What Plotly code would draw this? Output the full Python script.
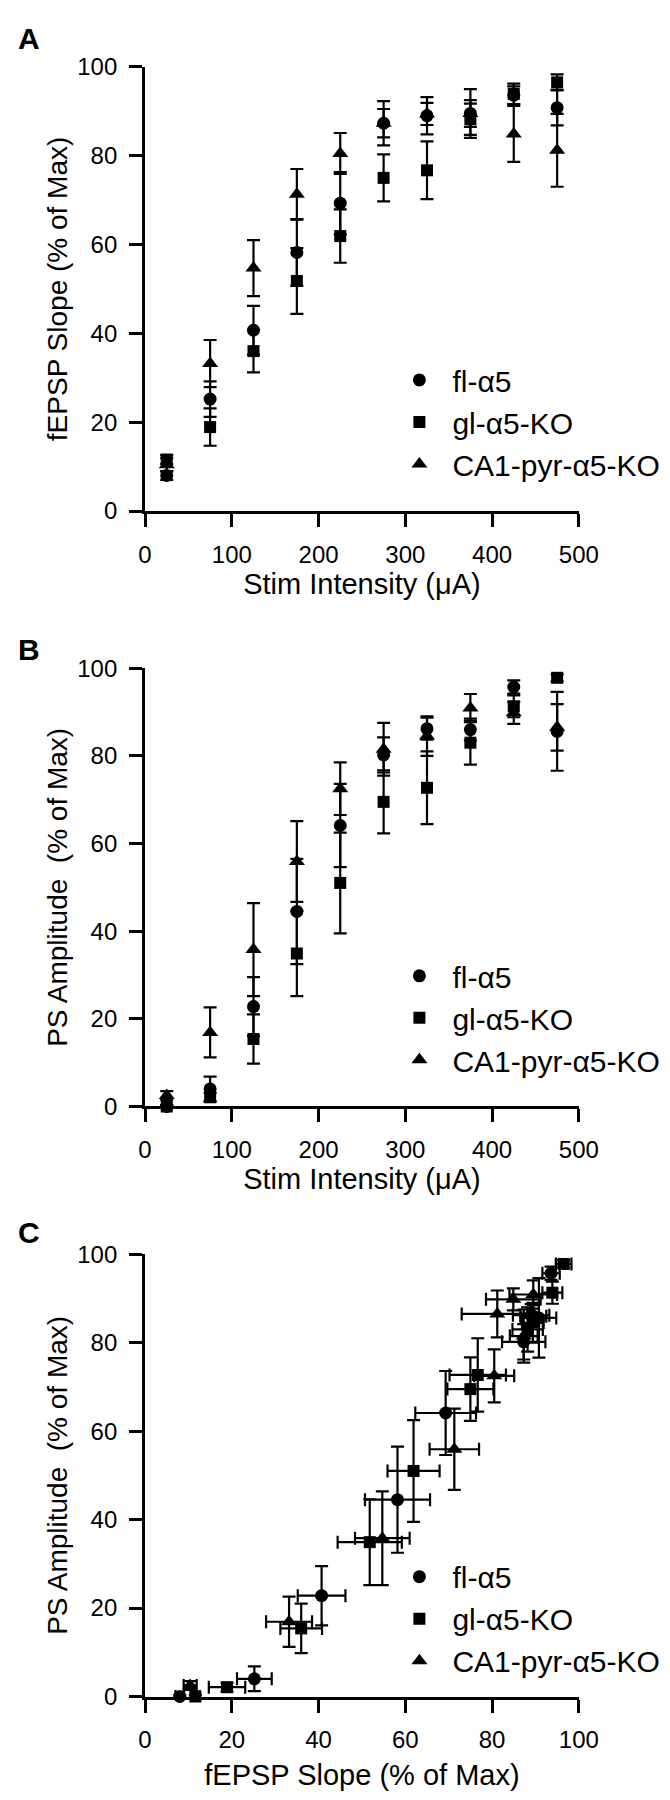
import plotly.graph_objects as go

# ---------------- data ----------------
stim = [25, 75, 125, 175, 225, 275, 325, 375, 425, 475]
groups = ["fl-α5", "gl-α5-KO", "CA1-pyr-α5-KO"]

# fEPSP slope (% of max), mean and SEM
slope_fl = [8.0, 25.2, 40.7, 58.2, 69.3, 87.3, 89.0, 89.5, 93.6, 90.8]
slope_fl_err = [1.0, 4.0, 5.5, 7.5, 7.0, 5.0, 4.2, 3.0, 2.0, 4.0]
slope_gl = [11.6, 18.9, 36.0, 51.8, 61.9, 75.0, 76.7, 88.2, 93.9, 96.5]
slope_gl_err = [1.0, 4.2, 4.8, 7.4, 6.0, 5.3, 6.5, 3.5, 2.3, 1.8]
slope_ca1 = [10.4, 33.2, 54.7, 71.3, 80.5, 87.3, 89.4, 89.5, 84.9, 81.2]
slope_ca1_err = [1.5, 5.3, 6.3, 5.7, 4.6, 3.2, 2.5, 5.5, 6.3, 8.2]

# PS amplitude (% of max), mean and SEM
ps_fl = [0.0, 4.0, 22.8, 44.5, 64.1, 80.2, 86.2, 86.0, 95.7, 85.6]
ps_fl_err = [0.3, 2.8, 6.7, 12.0, 9.5, 4.0, 2.5, 2.5, 1.5, 9.0]
ps_gl = [0.0, 2.1, 15.4, 34.9, 51.0, 69.5, 72.7, 83.0, 91.3, 97.8]
ps_gl_err = [0.3, 1.0, 5.6, 9.7, 11.5, 7.2, 8.3, 5.0, 2.5, 0.8]
ps_ca1 = [2.5, 16.9, 35.8, 55.9, 72.5, 81.5, 84.5, 90.9, 89.8, 86.5]
ps_ca1_err = [1.0, 5.7, 10.6, 9.2, 6.0, 6.0, 4.5, 3.2, 2.5, 5.3]

x_ticks_stim = [0, 100, 200, 300, 400, 500]
y_ticks = [0, 20, 40, 60, 80, 100]

# ---------------- style ----------------
FONT = "Liberation Sans, Arial, Helvetica, sans-serif"
symbols = ["circle", "square", "triangle-up"]
sizes = [13, 12, 14]
slopes = [(slope_fl, slope_fl_err), (slope_gl, slope_gl_err), (slope_ca1, slope_ca1_err)]
pss = [(ps_fl, ps_fl_err), (ps_gl, ps_gl_err), (ps_ca1, ps_ca1_err)]

fig = go.Figure()

def err(arr):
    return dict(type="data", array=arr, color="black", thickness=2.2, width=6.5, visible=True)

for i, name in enumerate(groups):
    s, se = slopes[i]
    p, pe = pss[i]
    mk = dict(symbol=symbols[i], size=sizes[i], color="black", line=dict(width=0))
    fig.add_trace(go.Scatter(x=stim, y=s, error_y=err(se), mode="markers", marker=mk,
                             name=name, xaxis="x", yaxis="y", legend="legend",
                             legendgroup="A%d" % i, cliponaxis=False))
    fig.add_trace(go.Scatter(x=stim, y=p, error_y=err(pe), mode="markers", marker=mk,
                             name=name, xaxis="x2", yaxis="y2", legend="legend2",
                             legendgroup="B%d" % i, cliponaxis=False))
    fig.add_trace(go.Scatter(x=s, y=p, error_x=err(se), error_y=err(pe), mode="markers",
                             marker=mk, name=name, xaxis="x3", yaxis="y3", legend="legend3",
                             legendgroup="C%d" % i, cliponaxis=False))

W, H = 670, 1800
xdom = [135.5 / W, 587.5 / W]

def ydom(y0px, y100px):
    return [1 - y0px / H, 1 - y100px / H]

axis_common = dict(showline=True, linewidth=3, linecolor="black", ticks="outside",
                   ticklen=13, tickwidth=3, tickcolor="black", showgrid=False,
                   zeroline=False, tickfont=dict(family=FONT, size=24, color="black"),
                   ticklabelstandoff=7, fixedrange=True)

def xax(anchor, rng, tickvals, title, standoff):
    return dict(axis_common, domain=xdom, anchor=anchor, range=rng, tickvals=tickvals,
                title=dict(text=title, font=dict(family=FONT, size=29, color="black"),
                           standoff=standoff))

def yax(anchor, dom, title):
    return dict(axis_common, domain=dom, anchor=anchor, range=[0, 100], tickvals=y_ticks,
                title=dict(text=title, font=dict(family=FONT, size=28, color="black"),
                           standoff=2))

def leg(ytop):
    return dict(x=387 / W, xanchor="left", y=1 - ytop / H, yanchor="top",
                font=dict(family=FONT, size=30, color="black"), bgcolor="rgba(0,0,0,0)",
                tracegroupgap=0, itemwidth=56, itemclick=False, itemdoubleclick=False)

fig.update_layout(
    width=W, height=H, margin=dict(l=0, r=0, t=0, b=0),
    paper_bgcolor="white", plot_bgcolor="white",
    font=dict(family=FONT, color="black"),
    showlegend=True,
    xaxis=xax("y", [0, 500], x_ticks_stim, "Stim Intensity (μA)", 6),
    yaxis=yax("x", ydom(496.5, 45.5), "fEPSP Slope (% of Max)"),
    xaxis2=xax("y2", [0, 500], x_ticks_stim, "Stim Intensity (μA)", 1),
    yaxis2=yax("x2", ydom(1101, 656), "PS Amplitude  (% of Max)"),
    xaxis3=xax("y3", [0, 100], y_ticks, "fEPSP Slope (% of Max)", 13),
    yaxis3=yax("x3", ydom(1700, 1251), "PS Amplitude  (% of Max)"),
    legend=leg(337),
    legend2=leg(942),
    legend3=leg(1552),
)

for letter, ypx in [("A", 17), ("B", 637), ("C", 1229)]:
    fig.add_annotation(text="<b>%s</b>" % letter, xref="paper", yref="paper",
                       x=1 / W, y=1 - ypx / H, xanchor="left", yanchor="middle",
                       showarrow=False, font=dict(family=FONT, size=30, color="black"))

fig.write_html("out.html")
